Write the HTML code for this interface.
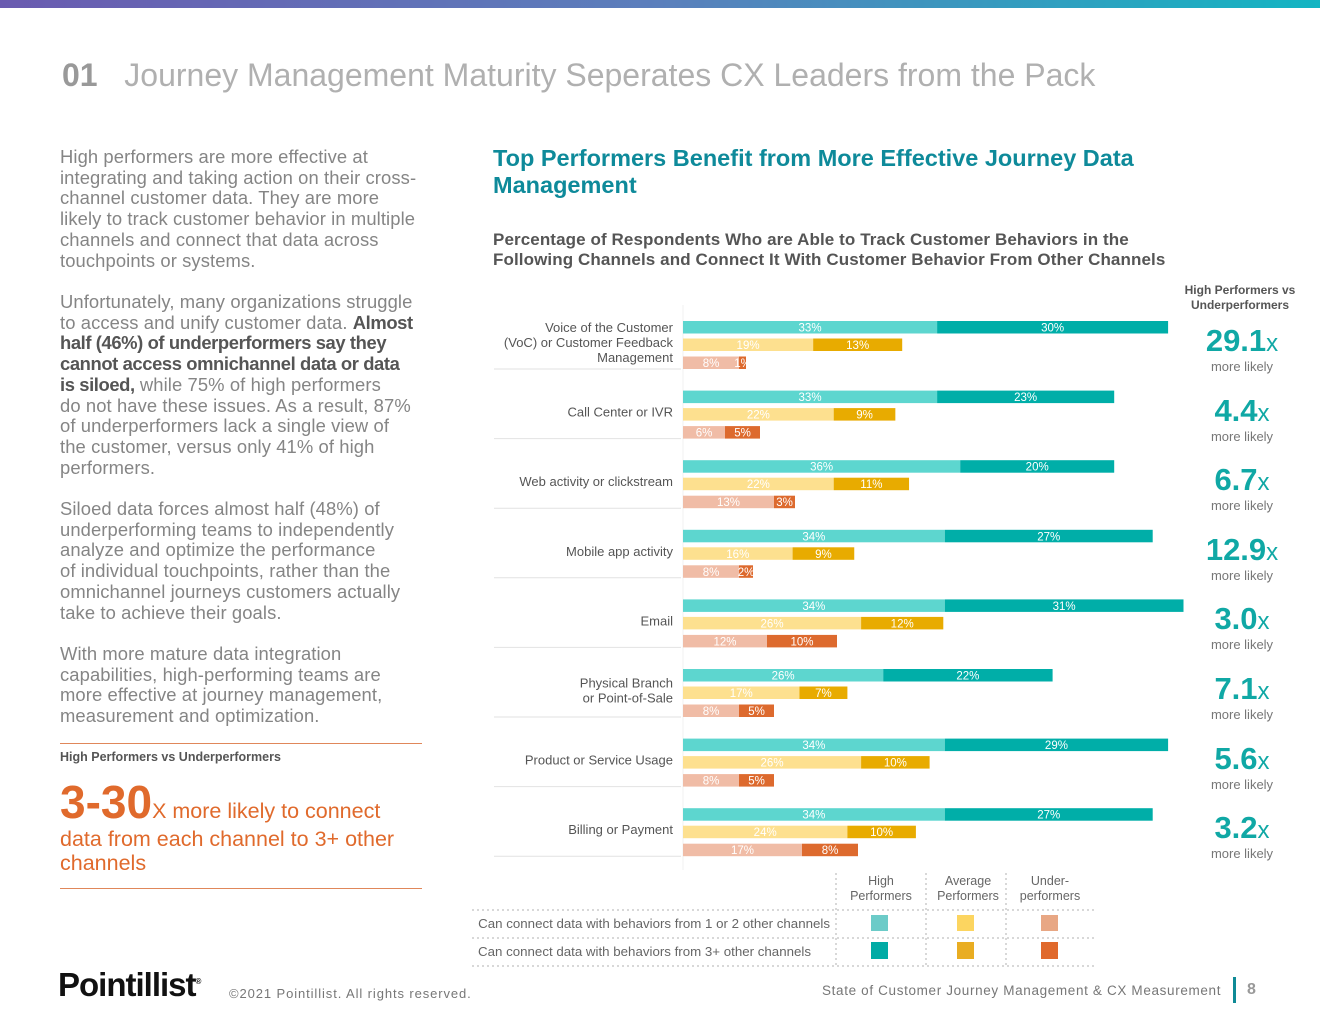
<!DOCTYPE html>
<html><head><meta charset="utf-8">
<style>
body{margin:0;width:1320px;height:1020px;position:relative;background:#fff;font-family:"Liberation Sans",sans-serif;overflow:hidden}
.abs{position:absolute}
.lt{color:#858585;font-size:18.4px;line-height:20.7px;letter-spacing:0.1px;white-space:nowrap}
.lt b{color:#555;font-weight:bold;letter-spacing:-0.4px}
.ratio{position:absolute;width:120px;text-align:center;left:1182px}
.ratio .n{color:#10a8a5;font-size:31px;font-weight:bold;line-height:32px}
.ratio .n span{font-size:24px;font-weight:normal}
.ratio .m{color:#777;font-size:13px;line-height:14px}
</style></head><body>
<div class="abs" style="left:0;top:0;width:1320px;height:8px;background:linear-gradient(90deg,#6a5bb0,#5b7fbc 50%,#13b5c2)"></div>
<div class="abs" style="left:62px;top:57px;font-size:32px;color:#aaa;white-space:nowrap"><b style="color:#999">01</b>&nbsp;&nbsp;&nbsp;<span style="color:#b0b0b0;letter-spacing:0px">Journey Management Maturity Seperates CX Leaders from the Pack</span></div>

<div class="abs lt" style="left:60px;top:147px">High performers are more effective at<br>integrating and taking action on their cross-<br>channel customer data. They are more<br>likely to track customer behavior in multiple<br>channels and connect that data across<br>touchpoints or systems.</div>
<div class="abs lt" style="left:60px;top:292px">Unfortunately, many organizations struggle<br>to access and unify customer data. <b>Almost<br>half (46%) of underperformers say they<br>cannot access omnichannel data or data<br>is siloed,</b> while 75% of high performers<br>do not have these issues. As a result, 87%<br>of underperformers lack a single view of<br>the customer, versus only 41% of high<br>performers.</div>
<div class="abs lt" style="left:60px;top:499px">Siloed data forces almost half (48%) of<br>underperforming teams to independently<br>analyze and optimize the performance<br>of individual touchpoints, rather than the<br>omnichannel journeys customers actually<br>take to achieve their goals.</div>
<div class="abs lt" style="left:60px;top:644px">With more mature data integration<br>capabilities, high-performing teams are<br>more effective at journey management,<br>measurement and optimization.</div>
<div class="abs" style="left:60px;top:743px;width:362px;height:1px;background:#e0875a"></div>
<div class="abs" style="left:60px;top:750px;font-size:12.5px;font-weight:bold;color:#555">High Performers vs Underperformers</div>
<div class="abs" style="left:60px;top:777px;width:380px;color:#e06a2c;font-size:21.5px;line-height:24px;white-space:nowrap"><span style="font-size:46px;font-weight:bold;line-height:50px">3-30</span>X more likely to connect<br>data from each channel to 3+ other<br>channels</div>
<div class="abs" style="left:60px;top:888px;width:362px;height:1px;background:#e0875a"></div>

<div class="abs" style="left:58px;top:966px;font-size:33px;font-weight:bold;color:#111;letter-spacing:-1px">Pointillist<sup style="font-size:8px">®</sup></div>
<div class="abs" style="left:229px;top:986px;font-size:13px;color:#777;letter-spacing:0.9px">©2021 Pointillist. All rights reserved.</div>
<div class="abs" style="left:822px;top:983px;font-size:13.5px;color:#777;letter-spacing:0.65px">State of Customer Journey Management &amp; CX Measurement</div>
<div class="abs" style="left:1233px;top:977px;width:3px;height:26px;background:#0f8a96"></div>
<div class="abs" style="left:1247px;top:981px;font-size:16px;font-weight:bold;color:#999">8</div>

<div class="abs" style="left:493px;top:145px;font-size:23.5px;font-weight:bold;color:#0e8a9a;line-height:27px">Top Performers Benefit from More Effective Journey Data<br>Management</div>
<div class="abs" style="left:493px;top:230px;font-size:17px;font-weight:bold;color:#555;line-height:20px;letter-spacing:0.1px;white-space:nowrap">Percentage of Respondents Who are Able to Track Customer Behaviors in the<br>Following Channels and Connect It With Customer Behavior From Other Channels</div>
<div class="abs" style="left:1175px;top:283px;width:130px;text-align:center;font-size:12px;font-weight:bold;color:#555;line-height:15px">High Performers vs<br>Underperformers</div>

<svg id="chart" class="abs" style="left:0;top:0" width="1320" height="1020"></svg>
<div id="ratios"></div>

<svg class="abs" style="left:0;top:0" width="1320" height="1020">
<g stroke="#ccc" stroke-dasharray="2,3" stroke-width="1.5">
<line x1="836" y1="873" x2="836" y2="967"/><line x1="926" y1="873" x2="926" y2="967"/><line x1="1006" y1="873" x2="1006" y2="967"/>
<line x1="472" y1="910" x2="1095" y2="910"/><line x1="472" y1="938" x2="1095" y2="938"/><line x1="472" y1="966" x2="1095" y2="966"/>
</g>
<g font-family="Liberation Sans" font-size="12.5" fill="#666" text-anchor="middle">
<text x="881" y="885">High</text><text x="881" y="900">Performers</text>
<text x="968" y="885">Average</text><text x="968" y="900">Performers</text>
<text x="1050" y="885">Under-</text><text x="1050" y="900">performers</text>
</g>
<g font-family="Liberation Sans" font-size="13.3" fill="#666" text-anchor="end">
<text x="830" y="928">Can connect data with behaviors from 1 or 2 other channels</text>
<text x="811" y="956">Can connect data with behaviors from 3+ other channels</text>
</g>
<rect x="871" y="915" width="17" height="16" fill="#6ccbc8"/><rect x="957" y="915" width="17" height="16" fill="#fcd560"/><rect x="1041" y="915" width="17" height="16" fill="#e8a784"/>
<rect x="871" y="942" width="17" height="17" fill="#00aba5"/><rect x="957" y="942" width="17" height="17" fill="#e9ad22"/><rect x="1041" y="942" width="17" height="17" fill="#e0692c"/>
</svg>

<script>
const categories=["Voice of the Customer|(VoC) or Customer Feedback|Management","Call Center or IVR","Web activity or clickstream","Mobile app activity","Email","Physical Branch|or Point-of-Sale","Product or Service Usage","Billing or Payment"];
const highOneTwo=[33,33,36,34,34,26,34,34];
const highThreePlus=[30,23,20,27,31,22,29,27];
const avgOneTwo=[19,22,22,16,26,17,26,24];
const avgThreePlus=[13,9,11,9,12,7,10,10];
const underOneTwo=[8,6,13,8,12,8,8,17];
const underThreePlus=[1,5,3,2,10,5,5,8];
const ratioValues=["29.1","4.4","6.7","12.9","3.0","7.1","5.6","3.2"];

const NS="http://www.w3.org/2000/svg";
const svg=document.getElementById('chart');
const x0=683;
const scales=[v=>v*7.7, v=>v*6.85, v=>v*7.0];
const groupTop=i=>321+i*69.6;
function mk(tag,attrs){const e=document.createElementNS(NS,tag);for(const k in attrs)e.setAttribute(k,attrs[k]);svg.appendChild(e);return e;}
const rows=[[highOneTwo,highThreePlus,"#5dd6cf","#00aea8"],[avgOneTwo,avgThreePlus,"#fde08f","#e8ab00"],[underOneTwo,underThreePlus,"#f0bca6","#dd6a2e"]];
const axis=mk('line',{x1:x0,y1:305,x2:x0,y2:870,stroke:'#f0f0f0','stroke-width':1});


categories.forEach((c,i)=>{
  const gt=groupTop(i);
  const off=[0,17.5,35.5];
  rows.forEach((r,j)=>{
    const xs=scales[j];
    const y=gt+off[j], h=12.5;
    const a=r[0][i], b=r[1][i];
    const r1=mk('rect',{x:x0,y:y,width:xs(a),height:h,fill:r[2]});
    
    
    const r2=mk('rect',{x:x0+xs(a),y:y,width:xs(b),height:h,fill:r[3]});
    
    
    const t1=mk('text',{x:x0+xs(a)/2,y:y+10.5,'text-anchor':'middle','font-size':11.5,fill:'#fff','font-family':'Liberation Sans'});
    t1.textContent=a+'%';
    
    
    const t2=mk('text',{x:x0+xs(a)+xs(b)/2,y:y+10.5,'text-anchor':'middle','font-size':11.5,fill:'#fff','font-family':'Liberation Sans'});
    t2.textContent=b+'%';
    
    
  });
  const lines=c.split('|');
  const cy=gt+22;
  lines.forEach((l,k)=>{
    const t=mk('text',{x:673,y:cy+4+(k-(lines.length-1)/2)*15,'text-anchor':'end','font-size':13,fill:'#555','font-family':'Liberation Sans'});
    t.textContent=l;
    
    
  });
  const sep=mk('line',{x1:494,y1:gt+48,x2:681,y2:gt+48,stroke:'#e2e2e2','stroke-width':1});
  
  
});
const rc=document.getElementById('ratios');
ratioValues.forEach((v,i)=>{
  const d=document.createElement('div');
  d.className='ratio';
  d.style.top=(groupTop(i)+4)+'px';
  
  
  d.innerHTML='<div class="n">'+v+'<span>x</span></div><div class="m">more likely</div>';
  rc.appendChild(d);
});
</script>
</body></html>
